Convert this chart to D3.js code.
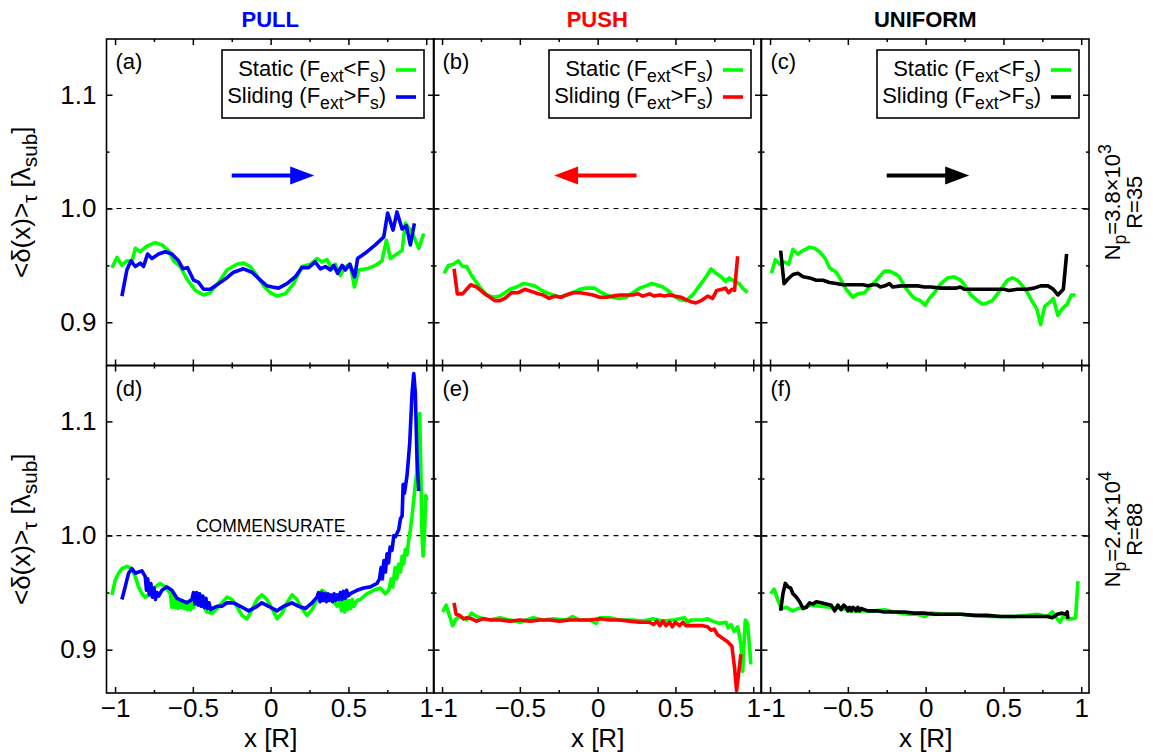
<!DOCTYPE html>
<html><head><meta charset="utf-8">
<script src="https://cdn.jsdelivr.net/npm/d3@7"></script>
<style>
body{margin:0;background:#fff}
svg text{font-family:"Liberation Sans",Arial,Helvetica,sans-serif}
</style>
</head><body>
<svg id="chart" width="1153" height="754"></svg>
<script>
// ---------- data ----------
const columnTitles = ["PULL", "PUSH", "UNIFORM"];
const columnColors = ["#0000ff", "#ff0000", "#000000"];
const panelLabels = [["(a)", "(b)", "(c)"], ["(d)", "(e)", "(f)"]];
const xTicks = [-1, -0.5, 0, 0.5, 1];
const xTickLabels = ["\u22121", "\u22120.5", "0", "0.5", "1"];
const xTickLabelJoined = "-1";
const xMinorTicks = [-0.75, -0.25, 0.25, 0.75];
const yTicks = [0.9, 1.0, 1.1];
const yTickLabels = ["0.9", "1.0", "1.1"];
const yMinorTicks = [0.95, 1.05];
const rowLabelsNp = [["3.8", "3"], ["2.4", "4"]];
const rowLabelsR = ["R=35", "R=88"];
const legendStatic = "Static";
const legendSliding = "Sliding";
const arrowX = [[-0.25, 0.28], [0.25, -0.28], [-0.25, 0.28]];
const arrowY = 1.029;
const commensurateLevel = 1.0;

// (a) PULL, R=35
const pullStaticTop = [[-1.020,0.948],[-0.988,0.957],[-0.956,0.950],[-0.924,0.954],[-0.892,0.953],[-0.870,0.965],[-0.838,0.962],[-0.795,0.967],[-0.742,0.970],[-0.699,0.968],[-0.656,0.963],[-0.624,0.954],[-0.581,0.949],[-0.538,0.938],[-0.484,0.928],[-0.431,0.924],[-0.388,0.926],[-0.334,0.935],[-0.281,0.946],[-0.217,0.951],[-0.174,0.952],[-0.131,0.949],[-0.088,0.941],[-0.045,0.932],[-0.002,0.926],[0.041,0.923],[0.094,0.925],[0.148,0.934],[0.201,0.949],[0.255,0.951],[0.298,0.956],[0.330,0.953],[0.362,0.955],[0.394,0.947],[0.416,0.951],[0.448,0.941],[0.480,0.949],[0.512,0.951],[0.538,0.931],[0.566,0.946],[0.620,0.947],[0.673,0.950],[0.716,0.954],[0.744,0.972],[0.770,0.956],[0.812,0.960],[0.845,0.963],[0.866,0.987],[0.909,0.979],[0.952,0.965],[0.984,0.978]];
const pullSlidingTop = [[-0.956,0.923],[-0.924,0.946],[-0.898,0.954],[-0.870,0.949],[-0.838,0.952],[-0.817,0.949],[-0.791,0.960],[-0.763,0.956],[-0.720,0.960],[-0.677,0.962],[-0.635,0.960],[-0.592,0.954],[-0.564,0.947],[-0.534,0.948],[-0.495,0.937],[-0.463,0.935],[-0.431,0.929],[-0.388,0.929],[-0.345,0.933],[-0.292,0.938],[-0.238,0.944],[-0.174,0.947],[-0.120,0.944],[-0.066,0.937],[-0.024,0.932],[0.009,0.931],[0.051,0.930],[0.105,0.934],[0.159,0.940],[0.201,0.948],[0.244,0.948],[0.287,0.953],[0.319,0.947],[0.352,0.949],[0.384,0.946],[0.405,0.950],[0.431,0.943],[0.459,0.950],[0.480,0.946],[0.508,0.951],[0.540,0.940],[0.559,0.956],[0.620,0.962],[0.673,0.968],[0.727,0.975],[0.752,0.996],[0.787,0.981],[0.812,0.997],[0.845,0.982],[0.872,0.985],[0.898,0.968],[0.924,0.987]];

// (b) PUSH, R=35
const pushStaticTop = [[-0.987,0.943],[-0.959,0.950],[-0.927,0.951],[-0.895,0.954],[-0.868,0.949],[-0.842,0.949],[-0.810,0.941],[-0.778,0.935],[-0.746,0.929],[-0.714,0.924],[-0.671,0.922],[-0.628,0.923],[-0.596,0.926],[-0.564,0.929],[-0.521,0.931],[-0.479,0.934],[-0.436,0.933],[-0.404,0.932],[-0.372,0.929],[-0.329,0.926],[-0.286,0.924],[-0.244,0.922],[-0.201,0.924],[-0.158,0.926],[-0.115,0.929],[-0.073,0.930],[-0.019,0.930],[0.013,0.927],[0.056,0.924],[0.098,0.922],[0.141,0.921],[0.184,0.922],[0.226,0.926],[0.269,0.930],[0.312,0.932],[0.344,0.934],[0.376,0.933],[0.419,0.931],[0.451,0.928],[0.483,0.924],[0.526,0.920],[0.568,0.919],[0.611,0.924],[0.654,0.932],[0.697,0.940],[0.729,0.947],[0.761,0.943],[0.793,0.940],[0.821,0.936],[0.846,0.939],[0.878,0.936],[0.910,0.934],[0.932,0.930],[0.964,0.926]];
const pushSlidingTop = [[-0.923,0.947],[-0.902,0.925],[-0.868,0.925],[-0.842,0.929],[-0.816,0.933],[-0.778,0.931],[-0.735,0.926],[-0.692,0.922],[-0.660,0.919],[-0.628,0.919],[-0.596,0.921],[-0.553,0.926],[-0.511,0.926],[-0.468,0.929],[-0.425,0.927],[-0.382,0.925],[-0.350,0.924],[-0.312,0.921],[-0.276,0.923],[-0.233,0.922],[-0.201,0.924],[-0.158,0.926],[-0.115,0.926],[-0.073,0.925],[-0.030,0.924],[0.013,0.922],[0.056,0.922],[0.098,0.923],[0.141,0.924],[0.184,0.924],[0.226,0.924],[0.259,0.925],[0.291,0.923],[0.333,0.925],[0.365,0.923],[0.397,0.924],[0.429,0.923],[0.462,0.924],[0.494,0.923],[0.536,0.922],[0.568,0.920],[0.600,0.918],[0.632,0.917],[0.665,0.919],[0.707,0.923],[0.739,0.921],[0.765,0.928],[0.799,0.929],[0.821,0.930],[0.842,0.926],[0.863,0.929],[0.880,0.928],[0.900,0.958]];

// (c) UNIFORM, R=35
const uniformStaticTop = [[-0.991,0.943],[-0.966,0.955],[-0.938,0.951],[-0.906,0.953],[-0.880,0.951],[-0.853,0.964],[-0.821,0.960],[-0.788,0.963],[-0.746,0.966],[-0.714,0.965],[-0.682,0.962],[-0.645,0.956],[-0.618,0.948],[-0.575,0.944],[-0.543,0.937],[-0.511,0.929],[-0.468,0.922],[-0.436,0.925],[-0.393,0.926],[-0.361,0.931],[-0.329,0.935],[-0.297,0.940],[-0.265,0.945],[-0.233,0.945],[-0.201,0.943],[-0.169,0.940],[-0.137,0.932],[-0.105,0.926],[-0.073,0.921],[-0.034,0.919],[-0.004,0.915],[0.024,0.921],[0.056,0.926],[0.098,0.934],[0.141,0.939],[0.184,0.940],[0.226,0.937],[0.259,0.931],[0.291,0.924],[0.333,0.919],[0.365,0.916],[0.397,0.917],[0.429,0.919],[0.462,0.925],[0.494,0.931],[0.526,0.937],[0.558,0.939],[0.590,0.937],[0.622,0.932],[0.654,0.926],[0.686,0.918],[0.714,0.912],[0.739,0.898],[0.765,0.914],[0.793,0.917],[0.821,0.921],[0.850,0.906],[0.878,0.912],[0.910,0.916],[0.936,0.924],[0.964,0.924]];
const uniformSlidingTop = [[-0.932,0.963],[-0.910,0.934],[-0.885,0.938],[-0.853,0.942],[-0.821,0.943],[-0.788,0.940],[-0.746,0.939],[-0.703,0.937],[-0.660,0.937],[-0.618,0.935],[-0.575,0.934],[-0.532,0.933],[-0.479,0.933],[-0.436,0.933],[-0.404,0.933],[-0.372,0.932],[-0.340,0.933],[-0.312,0.933],[-0.291,0.931],[-0.261,0.932],[-0.233,0.934],[-0.212,0.931],[-0.158,0.932],[-0.105,0.932],[-0.051,0.932],[-0.009,0.931],[0.034,0.931],[0.098,0.930],[0.152,0.930],[0.194,0.930],[0.222,0.931],[0.248,0.929],[0.312,0.929],[0.376,0.929],[0.440,0.929],[0.504,0.929],[0.536,0.928],[0.590,0.929],[0.654,0.929],[0.697,0.930],[0.739,0.932],[0.786,0.932],[0.821,0.929],[0.850,0.924],[0.885,0.929],[0.906,0.960]];

// (d) PULL, R=88
const pullStaticBottom = [[-1.020,0.948],[-0.999,0.961],[-0.977,0.967],[-0.956,0.971],[-0.924,0.973],[-0.892,0.971],[-0.870,0.964],[-0.849,0.955],[-0.827,0.949],[-0.806,0.946],[-0.774,0.949],[-0.742,0.955],[-0.710,0.958],[-0.677,0.955],[-0.645,0.949],[-0.635,0.937],[-0.625,0.947],[-0.615,0.937],[-0.605,0.945],[-0.595,0.936],[-0.585,0.944],[-0.575,0.937],[-0.565,0.943],[-0.555,0.936],[-0.545,0.942],[-0.535,0.935],[-0.525,0.941],[-0.515,0.935],[-0.505,0.942],[-0.495,0.937],[-0.485,0.946],[-0.474,0.941],[-0.462,0.949],[-0.452,0.944],[-0.431,0.938],[-0.409,0.933],[-0.377,0.932],[-0.345,0.936],[-0.313,0.941],[-0.281,0.946],[-0.249,0.944],[-0.217,0.938],[-0.184,0.930],[-0.152,0.927],[-0.120,0.935],[-0.088,0.944],[-0.056,0.948],[-0.024,0.944],[0.009,0.936],[0.041,0.927],[0.073,0.932],[0.105,0.941],[0.137,0.948],[0.169,0.944],[0.201,0.936],[0.234,0.930],[0.266,0.935],[0.298,0.944],[0.330,0.952],[0.362,0.949],[0.394,0.944],[0.427,0.938],[0.445,0.943],[0.455,0.934],[0.465,0.942],[0.475,0.933],[0.485,0.944],[0.495,0.935],[0.505,0.943],[0.515,0.936],[0.525,0.944],[0.535,0.938],[0.555,0.943],[0.577,0.944],[0.620,0.949],[0.662,0.952],[0.705,0.954],[0.737,0.949],[0.759,0.952],[0.775,0.962],[0.785,0.955],[0.800,0.972],[0.810,0.962],[0.823,0.975],[0.835,0.968],[0.845,0.982],[0.855,0.975],[0.866,0.988],[0.876,0.983],[0.887,0.996],[0.898,1.005],[0.909,1.017],[0.924,1.037],[0.941,1.058],[0.958,1.107],[0.965,1.060],[0.973,1.000],[0.980,0.982],[0.988,1.000],[0.997,1.035],[1.005,1.031]];
const pullSlidingBottom = [[-0.956,0.944],[-0.935,0.955],[-0.913,0.967],[-0.892,0.971],[-0.870,0.967],[-0.849,0.968],[-0.827,0.969],[-0.806,0.964],[-0.798,0.952],[-0.790,0.962],[-0.780,0.948],[-0.770,0.958],[-0.760,0.946],[-0.750,0.954],[-0.740,0.944],[-0.730,0.950],[-0.720,0.947],[-0.699,0.952],[-0.667,0.955],[-0.635,0.952],[-0.602,0.945],[-0.570,0.943],[-0.538,0.941],[-0.506,0.944],[-0.496,0.950],[-0.486,0.940],[-0.476,0.950],[-0.466,0.939],[-0.456,0.949],[-0.446,0.938],[-0.436,0.947],[-0.426,0.937],[-0.416,0.945],[-0.406,0.936],[-0.396,0.941],[-0.386,0.935],[-0.377,0.936],[-0.345,0.938],[-0.313,0.938],[-0.281,0.941],[-0.238,0.941],[-0.195,0.938],[-0.141,0.934],[-0.099,0.937],[-0.056,0.941],[-0.013,0.938],[0.041,0.934],[0.084,0.938],[0.137,0.941],[0.180,0.938],[0.223,0.936],[0.266,0.941],[0.298,0.946],[0.308,0.950],[0.318,0.942],[0.328,0.950],[0.338,0.943],[0.348,0.949],[0.358,0.942],[0.368,0.949],[0.378,0.943],[0.388,0.948],[0.398,0.942],[0.408,0.949],[0.418,0.943],[0.428,0.948],[0.438,0.944],[0.448,0.950],[0.458,0.944],[0.468,0.951],[0.478,0.945],[0.488,0.952],[0.498,0.947],[0.512,0.949],[0.555,0.952],[0.598,0.954],[0.641,0.955],[0.684,0.958],[0.700,0.962],[0.710,0.972],[0.718,0.962],[0.728,0.978],[0.738,0.968],[0.748,0.984],[0.758,0.976],[0.768,0.990],[0.780,0.987],[0.792,1.000],[0.802,0.999],[0.823,1.005],[0.835,1.015],[0.845,1.017],[0.852,1.045],[0.860,1.037],[0.877,1.053],[0.894,1.081],[0.909,1.125],[0.920,1.142],[0.930,1.125],[0.941,1.066],[0.952,1.039]];

// (e) PUSH, R=88
const pushStaticBottom = [[-0.996,0.933],[-0.974,0.939],[-0.953,0.930],[-0.932,0.921],[-0.910,0.927],[-0.885,0.929],[-0.842,0.926],[-0.810,0.932],[-0.778,0.929],[-0.735,0.927],[-0.692,0.926],[-0.628,0.928],[-0.564,0.926],[-0.500,0.924],[-0.415,0.928],[-0.350,0.926],[-0.286,0.927],[-0.201,0.926],[-0.162,0.929],[-0.115,0.926],[-0.051,0.926],[-0.009,0.923],[0.013,0.928],[0.077,0.928],[0.141,0.926],[0.226,0.926],[0.291,0.925],[0.355,0.927],[0.419,0.925],[0.483,0.926],[0.526,0.927],[0.558,0.928],[0.579,0.924],[0.600,0.926],[0.632,0.926],[0.675,0.926],[0.707,0.927],[0.739,0.925],[0.782,0.923],[0.825,0.924],[0.840,0.919],[0.857,0.922],[0.878,0.916],[0.900,0.920],[0.921,0.905],[0.932,0.881],[0.949,0.926],[0.964,0.923],[0.985,0.887]];
const pushSlidingBottom = [[-0.923,0.941],[-0.910,0.931],[-0.885,0.930],[-0.863,0.927],[-0.842,0.928],[-0.810,0.927],[-0.778,0.925],[-0.735,0.927],[-0.682,0.926],[-0.628,0.926],[-0.564,0.925],[-0.500,0.926],[-0.436,0.925],[-0.372,0.926],[-0.308,0.926],[-0.244,0.925],[-0.179,0.926],[-0.115,0.926],[-0.051,0.926],[0.013,0.927],[0.077,0.926],[0.141,0.926],[0.205,0.925],[0.269,0.924],[0.333,0.924],[0.360,0.922],[0.380,0.925],[0.400,0.921],[0.420,0.925],[0.440,0.921],[0.462,0.924],[0.480,0.920],[0.500,0.924],[0.526,0.921],[0.548,0.924],[0.568,0.921],[0.632,0.921],[0.675,0.921],[0.707,0.920],[0.729,0.917],[0.750,0.918],[0.771,0.913],[0.803,0.910],[0.835,0.907],[0.863,0.903],[0.880,0.884],[0.893,0.864],[0.906,0.879],[0.921,0.896]];

// (f) UNIFORM, R=88
const uniformStaticBottom = [[-0.996,0.949],[-0.974,0.953],[-0.949,0.943],[-0.927,0.936],[-0.895,0.937],[-0.853,0.934],[-0.821,0.936],[-0.788,0.937],[-0.735,0.939],[-0.671,0.938],[-0.607,0.937],[-0.543,0.936],[-0.479,0.934],[-0.415,0.934],[-0.329,0.934],[-0.265,0.935],[-0.201,0.933],[-0.115,0.931],[-0.051,0.931],[-0.009,0.929],[0.034,0.932],[0.141,0.931],[0.226,0.931],[0.312,0.930],[0.397,0.929],[0.483,0.929],[0.568,0.929],[0.654,0.930],[0.718,0.931],[0.782,0.929],[0.814,0.933],[0.835,0.929],[0.863,0.924],[0.889,0.930],[0.910,0.927],[0.942,0.927],[0.964,0.928],[0.979,0.960]];
const uniformSlidingBottom = [[-0.932,0.934],[-0.917,0.949],[-0.902,0.958],[-0.885,0.955],[-0.868,0.954],[-0.853,0.949],[-0.831,0.946],[-0.810,0.942],[-0.788,0.936],[-0.767,0.937],[-0.746,0.941],[-0.724,0.940],[-0.703,0.942],[-0.671,0.941],[-0.639,0.940],[-0.607,0.939],[-0.585,0.934],[-0.564,0.939],[-0.543,0.935],[-0.527,0.939],[-0.511,0.937],[-0.500,0.934],[-0.489,0.937],[-0.478,0.934],[-0.467,0.937],[-0.457,0.936],[-0.446,0.934],[-0.436,0.937],[-0.426,0.934],[-0.415,0.936],[-0.372,0.934],[-0.318,0.934],[-0.265,0.933],[-0.201,0.933],[-0.137,0.933],[-0.073,0.932],[-0.009,0.932],[0.056,0.931],[0.141,0.931],[0.226,0.931],[0.312,0.930],[0.397,0.930],[0.483,0.929],[0.568,0.929],[0.654,0.929],[0.739,0.929],[0.782,0.929],[0.814,0.928],[0.846,0.931],[0.878,0.932],[0.900,0.931],[0.910,0.933],[0.915,0.927]];

const staticSeries = [[pullStaticTop, pushStaticTop, uniformStaticTop], [pullStaticBottom, pushStaticBottom, uniformStaticBottom]];
const slidingSeries = [[pullSlidingTop, pushSlidingTop, uniformSlidingTop], [pullSlidingBottom, pushSlidingBottom, uniformSlidingBottom]];

// ---------- layout ----------
const FONT = '"Liberation Sans", Arial, Helvetica, sans-serif';
const staticColor = "#00ff00";
const colLeft = [106.5, 433.5, 761.5];
const colW = 327.5;
const rowTop = [39, 365.5];
const rowBottom = [365.5, 693];
const xDomain = [-1.055, 1.05];
const yDomain = [0.862, 1.149];

const svg = d3.select("#chart");
svg.append("rect").attr("width", 1153).attr("height", 754).attr("fill", "#fff");

function addSubText(sel, parts, size) {
  // parts: [text, mode] mode: 0 normal, 1 sub, 2 sup
  let shift = 0;
  parts.forEach(([t, m]) => {
    const target = m === 1 ? size * 0.28 : m === 2 ? -size * 0.42 : 0;
    sel.append("tspan")
      .attr("dy", target - shift)
      .attr("font-size", m ? size * 0.8 : size)
      .text(t);
    shift = target;
  });
}

for (let r = 0; r < 2; r++) {
  for (let c = 0; c < 3; c++) {
    const left = colLeft[c], right = left + colW, top = rowTop[r], bottom = rowBottom[r];
    const x = d3.scaleLinear().domain(xDomain).range([left, right]);
    const y = d3.scaleLinear().domain(yDomain).range([bottom, top]);
    const g = svg.append("g");

    // dashed commensurate line
    g.append("line")
      .attr("x1", left).attr("x2", right)
      .attr("y1", y(commensurateLevel)).attr("y2", y(commensurateLevel))
      .attr("stroke", "#000").attr("stroke-width", 1.2).attr("stroke-dasharray", "5,5");

    // axes (inward ticks on all four sides)
    const styleAxis = (ag) => {
      ag.select(".domain").remove();
      ag.selectAll("line").attr("stroke", "#000").attr("stroke-width", 1.5);
      ag.attr("font-size", 26).attr("font-family", FONT);
      ag.selectAll("text").attr("fill", "#000");
    };
    const bottomAxis = g.append("g").attr("transform", `translate(0,${bottom})`)
      .call(d3.axisBottom(x).tickValues(xTicks).tickSize(-6).tickPadding(5.5)
        .tickFormat((d, i) => r === 1 ? xTickLabels[i] : ""))
      .call(styleAxis);
    if (r === 1) {
      // labels that meet at the panel joins ("1-1")
      bottomAxis.selectAll(".tick text").each(function (d) {
        const t = d3.select(this);
        if (d === 1 && c < 2) {
          t.attr("text-anchor", "end").attr("x", right - x(1) - 0.5);
        }
        if (d === -1 && c > 0) {
          t.text(xTickLabelJoined).attr("text-anchor", "start").attr("x", left - x(-1) + 0.5);
        }
      });
    }
    g.append("g").attr("transform", `translate(0,${bottom})`)
      .call(d3.axisBottom(x).tickValues(xMinorTicks).tickSize(-3).tickFormat(() => ""))
      .call(styleAxis);
    g.append("g").attr("transform", `translate(0,${top})`)
      .call(d3.axisTop(x).tickValues(xTicks).tickSize(-6).tickFormat(() => ""))
      .call(styleAxis);
    g.append("g").attr("transform", `translate(0,${top})`)
      .call(d3.axisTop(x).tickValues(xMinorTicks).tickSize(-3).tickFormat(() => ""))
      .call(styleAxis);
    g.append("g").attr("transform", `translate(${left},0)`)
      .call(d3.axisLeft(y).tickValues(yTicks).tickSize(-6).tickPadding(10)
        .tickFormat((d, i) => c === 0 ? yTickLabels[i] : ""))
      .call(styleAxis);
    g.append("g").attr("transform", `translate(${left},0)`)
      .call(d3.axisLeft(y).tickValues(yMinorTicks).tickSize(-3).tickFormat(() => ""))
      .call(styleAxis);
    g.append("g").attr("transform", `translate(${right},0)`)
      .call(d3.axisRight(y).tickValues(yTicks).tickSize(-6).tickFormat(() => ""))
      .call(styleAxis);
    g.append("g").attr("transform", `translate(${right},0)`)
      .call(d3.axisRight(y).tickValues(yMinorTicks).tickSize(-3).tickFormat(() => ""))
      .call(styleAxis);

    // data lines
    const line = d3.line().x(d => x(d[0])).y(d => y(d[1]));
    g.append("path").datum(staticSeries[r][c])
      .attr("d", line).attr("fill", "none").attr("stroke", staticColor)
      .attr("stroke-width", 3.6).attr("stroke-linejoin", "round");
    g.append("path").datum(slidingSeries[r][c])
      .attr("d", line).attr("fill", "none").attr("stroke", columnColors[c])
      .attr("stroke-width", 3.6).attr("stroke-linejoin", "round");

    // frame
    g.append("rect").attr("x", left).attr("y", top)
      .attr("width", colW).attr("height", bottom - top)
      .attr("fill", "none").attr("stroke", "#000").attr("stroke-width", 1.6);

    // panel label
    g.append("text").attr("x", left + 9).attr("y", top + 30)
      .attr("font-size", 22).attr("fill", "#000").text(panelLabels[r][c]);

    if (r === 0) {
      // legend
      const lg = g.append("g");
      lg.append("rect").attr("x", right - 212).attr("y", top + 11)
        .attr("width", 202).attr("height", 68)
        .attr("fill", "#fff").attr("stroke", "#000").attr("stroke-width", 1.6);
      const t1 = lg.append("text").attr("x", right - 48).attr("y", top + 37)
        .attr("text-anchor", "end").attr("fill", "#000");
      addSubText(t1, [[legendStatic + " (F", 0], ["ext", 1], ["<F", 0], ["s", 1], [")", 0]], 22);
      const t2 = lg.append("text").attr("x", right - 48).attr("y", top + 63.5)
        .attr("text-anchor", "end").attr("fill", "#000");
      addSubText(t2, [[legendSliding + " (F", 0], ["ext", 1], [">F", 0], ["s", 1], [")", 0]], 22);
      lg.append("line").attr("x1", right - 38).attr("x2", right - 18)
        .attr("y1", top + 31).attr("y2", top + 31)
        .attr("stroke", staticColor).attr("stroke-width", 3.6);
      lg.append("line").attr("x1", right - 38).attr("x2", right - 18)
        .attr("y1", top + 58).attr("y2", top + 58)
        .attr("stroke", columnColors[c]).attr("stroke-width", 3.6);

      // direction arrow
      const ax0 = x(arrowX[c][0]), ax1 = x(arrowX[c][1]), ay = y(arrowY);
      const dir = Math.sign(ax1 - ax0);
      const headLen = 24, headHalf = 9;
      g.append("line").attr("x1", ax0).attr("x2", ax1 - dir * headLen + dir * 2)
        .attr("y1", ay).attr("y2", ay)
        .attr("stroke", columnColors[c]).attr("stroke-width", 4);
      g.append("path")
        .attr("d", `M${ax1},${ay} L${ax1 - dir * headLen},${ay - headHalf} L${ax1 - dir * headLen},${ay + headHalf} Z`)
        .attr("fill", columnColors[c]);

      // column title
      svg.append("text").attr("x", left + colW / 2).attr("y", 27)
        .attr("text-anchor", "middle").attr("font-size", 22).attr("font-weight", "bold")
        .attr("fill", columnColors[c]).text(columnTitles[c]);
    } else {
      // x axis title
      svg.append("text").attr("x", x(0)).attr("y", 747)
        .attr("text-anchor", "middle").attr("font-size", 26).attr("fill", "#000")
        .text("x [R]");
    }

    if (r === 1 && c === 0) {
      g.append("text").attr("x", x(0)).attr("y", y(commensurateLevel) - 3.5)
        .attr("text-anchor", "middle").attr("font-size", 17.5).attr("fill", "#000")
        .text("COMMENSURATE");
    }

    if (c === 0) {
      const cy = (top + bottom) / 2;
      const yl = svg.append("text")
        .attr("transform", `translate(30,${cy}) rotate(-90)`)
        .attr("text-anchor", "middle").attr("fill", "#000");
      addSubText(yl, [["<\u03b4(x)>", 0], ["\u03c4", 1], [" [\u03bb", 0], ["sub", 1], ["]", 0]], 26);
    }
    if (c === 2) {
      const cy = (top + bottom) / 2;
      const l1 = svg.append("text")
        .attr("transform", `translate(1120,${cy}) rotate(-90)`)
        .attr("text-anchor", "middle").attr("fill", "#000");
      addSubText(l1, [["N", 0], ["p", 1], ["=" + rowLabelsNp[r][0] + "\u00d710", 0], [rowLabelsNp[r][1], 2]], 22);
      svg.append("text")
        .attr("transform", `translate(1142,${cy}) rotate(-90)`)
        .attr("text-anchor", "middle").attr("font-size", 22).attr("fill", "#000")
        .text(rowLabelsR[r]);
    }
  }
}
</script>
</body></html>
